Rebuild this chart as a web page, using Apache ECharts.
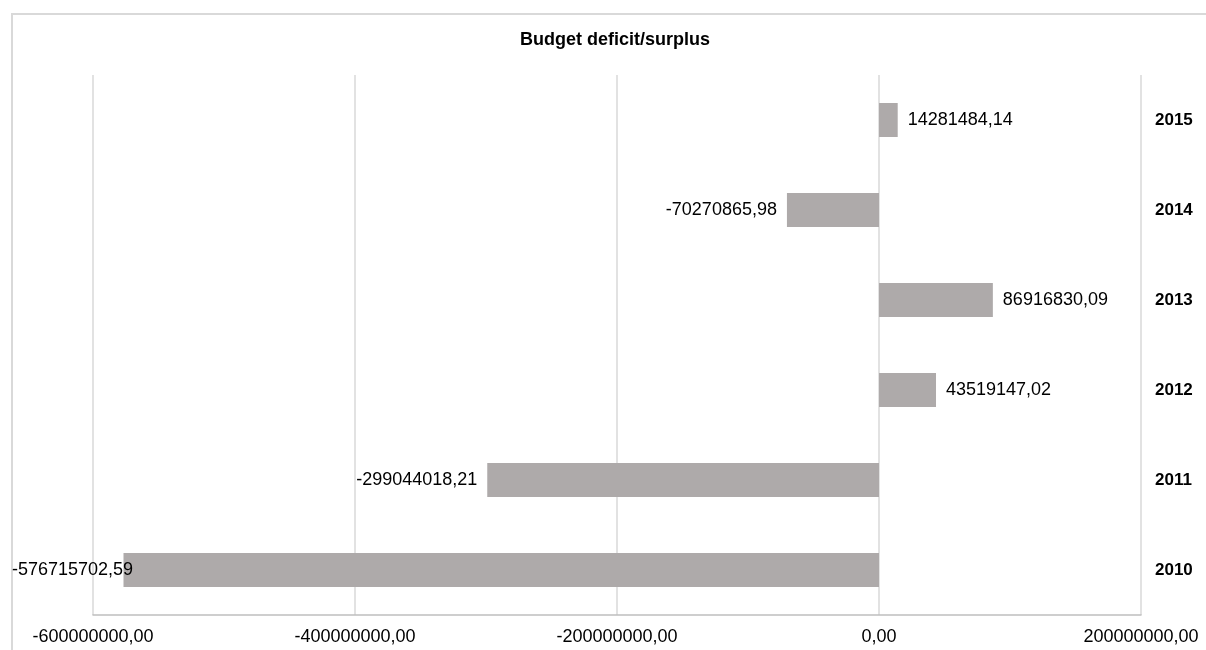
<!DOCTYPE html>
<html>
<head>
<meta charset="utf-8">
<script src="https://cdn.jsdelivr.net/npm/echarts@6/dist/echarts.min.js"></script>
<style>
  html, body { margin: 0; padding: 0; background: #ffffff; }
  #chart { width: 1206px; height: 650px; }
</style>
</head>
<body>
<div id="chart"></div>
<script>
// Budget balance per year
const years = ['2010', '2011', '2012', '2013', '2014', '2015'];
const balance = [-576715702.59, -299044018.21, 43519147.02, 86916830.09, -70270865.98, 14281484.14];
const xTicks = [-600000000, -400000000, -200000000, 0, 200000000];

const FONT = '"Liberation Sans", Arial, sans-serif';
const fmt = v => Number(v).toFixed(2).replace('.', ',');

const chart = echarts.init(document.getElementById('chart'), null, { renderer: 'canvas' });

chart.setOption({
  animation: false,
  backgroundColor: '#ffffff',
  textStyle: { fontFamily: FONT },
  title: {
    text: 'Budget deficit/surplus',
    left: 615,
    textAlign: 'center',
    top: 31,
    padding: 0,
    textStyle: { fontFamily: FONT, fontSize: 18, fontWeight: 'bold', color: '#000000' }
  },
  graphic: [{
    type: 'rect',
    silent: true,
    z: -1,
    shape: { x: 12, y: 14, width: 1300, height: 800 },
    style: { fill: null, stroke: '#d9d9d9', lineWidth: 2 }
  }],
  grid: { left: 93, right: 65, top: 75, bottom: 35, containLabel: false },
  xAxis: {
    type: 'value',
    min: xTicks[0],
    max: xTicks[xTicks.length - 1],
    interval: 200000000,
    axisLine: { show: true, lineStyle: { color: '#bfbfbf', width: 1.5 } },
    axisTick: { show: false },
    splitLine: { show: true, lineStyle: { color: '#d9d9d9', width: 1.5 } },
    axisLabel: {
      margin: 13,
      fontSize: 18,
      color: '#000000',
      fontFamily: FONT,
      formatter: v => fmt(v)
    }
  },
  yAxis: {
    type: 'category',
    position: 'right',
    data: years,
    axisLine: { show: false },
    axisTick: { show: false },
    splitLine: { show: false },
    axisLabel: {
      margin: 14,
      align: 'left',
      fontSize: 17,
      fontWeight: 'bold',
      color: '#000000',
      fontFamily: FONT
    }
  },
  series: [{
    type: 'bar',
    barWidth: 34,
    itemStyle: { color: '#aeaaaa' },
    data: balance.map(v => ({
      value: v,
      label: { position: v < 0 ? 'left' : 'right' }
    })),
    label: {
      show: true,
      distance: 10,
      fontSize: 18,
      color: '#000000',
      fontFamily: FONT,
      formatter: p => fmt(p.value)
    },
    labelLayout: params => {
      // keep labels inside the chart frame
      if (params.labelRect.x < 12) {
        return { dx: 12 - params.labelRect.x };
      }
      return {};
    }
  }]
});
</script>
</body>
</html>
